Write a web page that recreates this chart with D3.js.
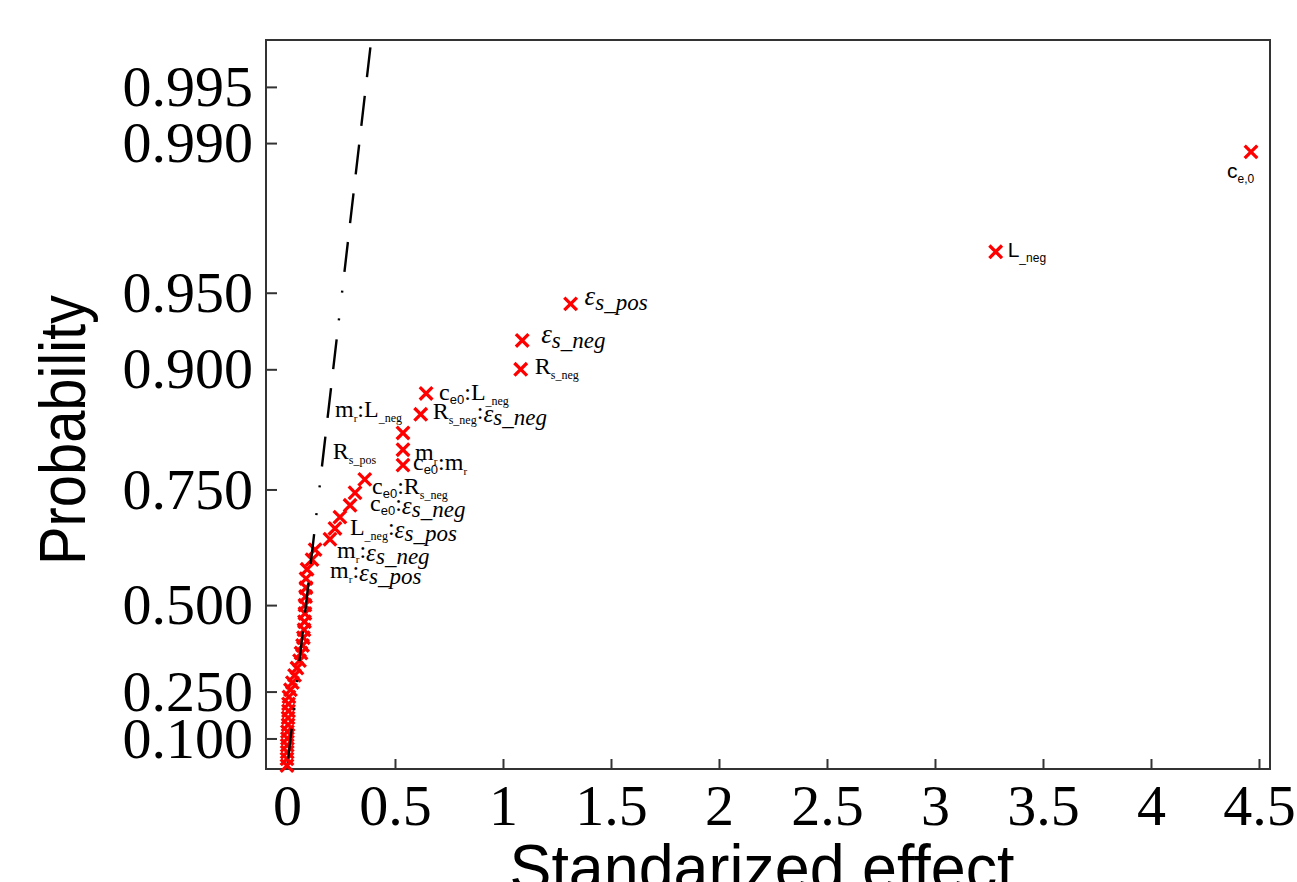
<!DOCTYPE html>
<html>
<head>
<meta charset="utf-8">
<script src="https://cdn.jsdelivr.net/npm/d3@7"></script>
<style>
  html, body { margin: 0; padding: 0; background: #fff; }
  svg { display: block; }
</style>
</head>
<body>
<svg id="chart" width="1297" height="882"></svg>
<script>
// ---------------- DATA ----------------
// absolute standardized effects, sorted from largest to smallest
const effects = [4.463, 3.281, 1.313, 1.089, 1.082, 0.644, 0.619, 0.537, 0.537, 0.537,
  0.360, 0.315, 0.292, 0.245, 0.222, 0.199, 0.130, 0.116, 0.093, 0.088,
  0.088, 0.086, 0.083, 0.083, 0.081, 0.079, 0.076, 0.072, 0.065, 0.058,
  0.046, 0.035, 0.025, 0.016, 0.009, 0.007, 0.007, 0.005, 0.005, 0.002,
  0.002, 0.001, 0.001, 0.000, 0.000];
// half-normal plotting probabilities for each effect
const probs = [0.9889, 0.9667, 0.9444, 0.9222, 0.9000, 0.8778, 0.8556, 0.8333, 0.8111, 0.7889,
  0.7667, 0.7444, 0.7222, 0.7000, 0.6778, 0.6556, 0.6333, 0.6111, 0.5889, 0.5667,
  0.5444, 0.5222, 0.5000, 0.4778, 0.4556, 0.4333, 0.4111, 0.3889, 0.3667, 0.3444,
  0.3222, 0.3000, 0.2778, 0.2556, 0.2333, 0.2111, 0.1889, 0.1667, 0.1444, 0.1222,
  0.1000, 0.0778, 0.0556, 0.0333, 0.0111];
const xTicks = [0, 0.5, 1, 1.5, 2, 2.5, 3, 3.5, 4, 4.5];
const xTickLabels = ["0", "0.5", "1", "1.5", "2", "2.5", "3", "3.5", "4", "4.5"];
const yTicks = [0.1, 0.25, 0.5, 0.75, 0.9, 0.95, 0.99, 0.995];
const yTickLabels = ["0.100", "0.250", "0.500", "0.750", "0.900", "0.950", "0.990", "0.995"];
// reference line: effect = refSlope * half-normal quantile
const refSlope = 0.13;
const refZmax = 2.97;
// labels: text runs and the effect (index) they belong to
const labelRuns = [
  [["c","sans"],["e,0","sanssub"]],
  [["L","sans"],["_neg","sanssub"]],
  [["ε","math"],["s_pos","mathsub"]],
  [["ε","math"],["s_neg","mathsub"]],
  [["R","serif"],["s_neg","sub"]],
  [["c","serif"],["e0","subsans"],[":L","serif"],["_neg","sub"]],
  [["R","serif"],["s_neg","sub"],[":","serif"],["ε","math2"],["s_neg","mathsub2"]],
  [["m","serif"],["r","subr"],[":L","serif"],["_neg","sub"]],
  [["m","serif"],["r","subr"]],
  [["c","serif"],["e0","subsans"],[":m","serif"],["r","subr"]],
  [["R","serif"],["s_pos","sub"]],
  [["c","serif"],["e0","subsans"],[":R","serif"],["s_neg","sub"]],
  [["c","serif"],["e0","subsans"],[":","serif"],["ε","math2"],["s_neg","mathsub2"]],
  [["L","serif"],["_neg","sub"],[":","serif"],["ε","math2"],["s_pos","mathsub2"]],
  [["m","serif"],["r","subr"],[":","serif"],["ε","math2"],["s_neg","mathsub2"]],
  [["m","serif"],["r","subr"],[":","serif"],["ε","math2"],["s_pos","mathsub2"]]
];
const labelPoint = [0, 1, 2, 3, 4, 5, 6, 7, 8, 9, 10, 11, 12, 14, 16, 18];

// ---------------- LAYOUT / STYLE ----------------
const labelOffset = [[-24,26],[12,5],[14,1],[19,3],[14,5],[13,7],[12,5],[-68,-16],[12,10],[10,5],
  [-32,-20],[17,1],[20,6],[15,7],[22,8],[23,9]];
const SERIF = "'Liberation Serif','Times New Roman',Times,serif";
const SANS = "'Liberation Sans',Arial,Helvetica,sans-serif";
const runStyle = {
  serif:    {f: SERIF, s: 24, sh: 0, it: false},
  sub:      {f: SERIF, s: 12, sh: 5, it: false},
  subr:     {f: SERIF, s: 11, sh: 5, it: false},
  subsans:  {f: SANS,  s: 13, sh: 4, it: false},
  sans:     {f: SANS,  s: 21, sh: 0, it: false},
  sanssub:  {f: SANS,  s: 12, sh: 5, it: false},
  math:     {f: SERIF, s: 27, sh: 0, it: true},
  mathsub:  {f: SERIF, s: 23, sh: 5, it: true},
  math2:    {f: SERIF, s: 25, sh: 3, it: true},
  mathsub2: {f: SERIF, s: 23, sh: 6, it: true}
};

// inverse standard normal CDF (Acklam)
function normInv(p) {
  const a=[-3.969683028665376e+01,2.209460984245205e+02,-2.759285104469687e+02,1.383577518672690e+02,-3.066479806614716e+01,2.506628277459239e+00];
  const b=[-5.447609879822406e+01,1.615858368580409e+02,-1.556989798598866e+02,6.680131188771972e+01,-1.328068155288572e+01];
  const c=[-7.784894002430293e-03,-3.223964580411365e-01,-2.400758277161838e+00,-2.549732539343734e+00,4.374664141464968e+00,2.938163982698783e+00];
  const d=[7.784695709041462e-03,3.224671290700398e-01,2.445134137142996e+00,3.754408661907416e+00];
  const pl=0.02425, ph=1-pl; let q, r;
  if (p < pl) { q=Math.sqrt(-2*Math.log(p)); return (((((c[0]*q+c[1])*q+c[2])*q+c[3])*q+c[4])*q+c[5])/((((d[0]*q+d[1])*q+d[2])*q+d[3])*q+1); }
  if (p <= ph) { q=p-0.5; r=q*q; return (((((a[0]*r+a[1])*r+a[2])*r+a[3])*r+a[4])*r+a[5])*q/(((((b[0]*r+b[1])*r+b[2])*r+b[3])*r+b[4])*r+1); }
  q=Math.sqrt(-2*Math.log(1-p)); return -(((((c[0]*q+c[1])*q+c[2])*q+c[3])*q+c[4])*q+c[5])/((((d[0]*q+d[1])*q+d[2])*q+d[3])*q+1);
}
const halfNorm = p => normInv((1 + p) / 2);

const L = 266, R = 1270, T = 40, B = 769;
const svg = d3.select("#chart");
svg.append("rect").attr("width", 1297).attr("height", 882).attr("fill", "#fff");

const x = d3.scaleLinear().domain([-0.0972, 4.551]).range([L, R]);
const y = d3.scaleLinear().domain([0, 3.0]).range([B, T]);

// axes
const xAxis = d3.axisBottom(x).tickValues(xTicks)
  .tickFormat((d, i) => xTickLabels[i]).tickSizeInner(-10).tickSizeOuter(0).tickPadding(15);
const gx = svg.append("g").attr("transform", `translate(0,${B})`).call(xAxis);
gx.select(".domain").remove();
gx.selectAll("line").attr("stroke", "#333").attr("stroke-width", 2);
gx.selectAll("text").attr("font-family", SERIF).attr("font-size", 58).attr("fill", "#000");

const yAxis = d3.axisLeft(y).tickValues(yTicks.map(halfNorm))
  .tickFormat((d, i) => yTickLabels[i]).tickSizeInner(-11).tickSizeOuter(0).tickPadding(13);
const gy = svg.append("g").attr("transform", `translate(${L},0)`).call(yAxis);
gy.select(".domain").remove();
gy.selectAll("line").attr("stroke", "#333").attr("stroke-width", 2);
gy.selectAll("text").attr("font-family", SERIF).attr("font-size", 58).attr("fill", "#000");

// frame
svg.append("rect").attr("x", L).attr("y", T).attr("width", R - L).attr("height", B - T)
  .attr("fill", "none").attr("stroke", "#333").attr("stroke-width", 2);

// points
const pts = effects.map((e, i) => ({e, z: halfNorm(probs[i])}));
svg.append("g").selectAll("path").data(pts).join("path")
  .attr("transform", d => `translate(${x(d.e)},${y(d.z)})`)
  .attr("d", "M-6.3,-6.3L6.3,6.3M-6.3,6.3L6.3,-6.3")
  .attr("stroke", "#ff0000").attr("stroke-width", 3.3).attr("fill", "none");

// reference line (drawn from top so the dash pattern starts at the top)
const dashA = [30, 19], dashD = [2, 26, 2, 19];
let dashes = [...dashA, ...dashA];
for (let k = 0; k < 5; k++) dashes = dashes.concat(dashA, dashA, dashA, dashD);
svg.append("path")
  .attr("d", d3.line()([[x(refSlope * refZmax), y(refZmax)], [x(0), y(0)]]))
  .attr("stroke", "#000").attr("stroke-width", 2.4).attr("fill", "none")
  .attr("stroke-dasharray", dashes.join(","));

// labels
const gl = svg.append("g");
labelRuns.forEach((runs, li) => {
  const p = pts[labelPoint[li]];
  const bx = x(p.e) + labelOffset[li][0];
  const by = y(p.z) + labelOffset[li][1];
  const t = gl.append("text").attr("x", bx).attr("y", by).attr("fill", "#000");
  runs.forEach(([txt, st]) => {
    const s = runStyle[st];
    t.append("tspan").attr("y", by + s.sh)
      .attr("font-family", s.f).attr("font-size", s.s)
      .attr("font-style", s.it ? "italic" : "normal")
      .text(txt);
  });
});

// axis titles
svg.append("text").attr("transform", "translate(85,430) rotate(-90)")
  .attr("text-anchor", "middle").attr("font-family", SANS).attr("font-size", 64)
  .attr("textLength", 270).attr("lengthAdjust", "spacingAndGlyphs")
  .attr("fill", "#000").text("Probability");
svg.append("text").attr("x", 762).attr("y", 890)
  .attr("text-anchor", "middle").attr("font-family", SANS).attr("font-size", 64)
  .attr("textLength", 505).attr("lengthAdjust", "spacingAndGlyphs")
  .attr("fill", "#000").text("Standarized effect");
</script>
</body>
</html>
